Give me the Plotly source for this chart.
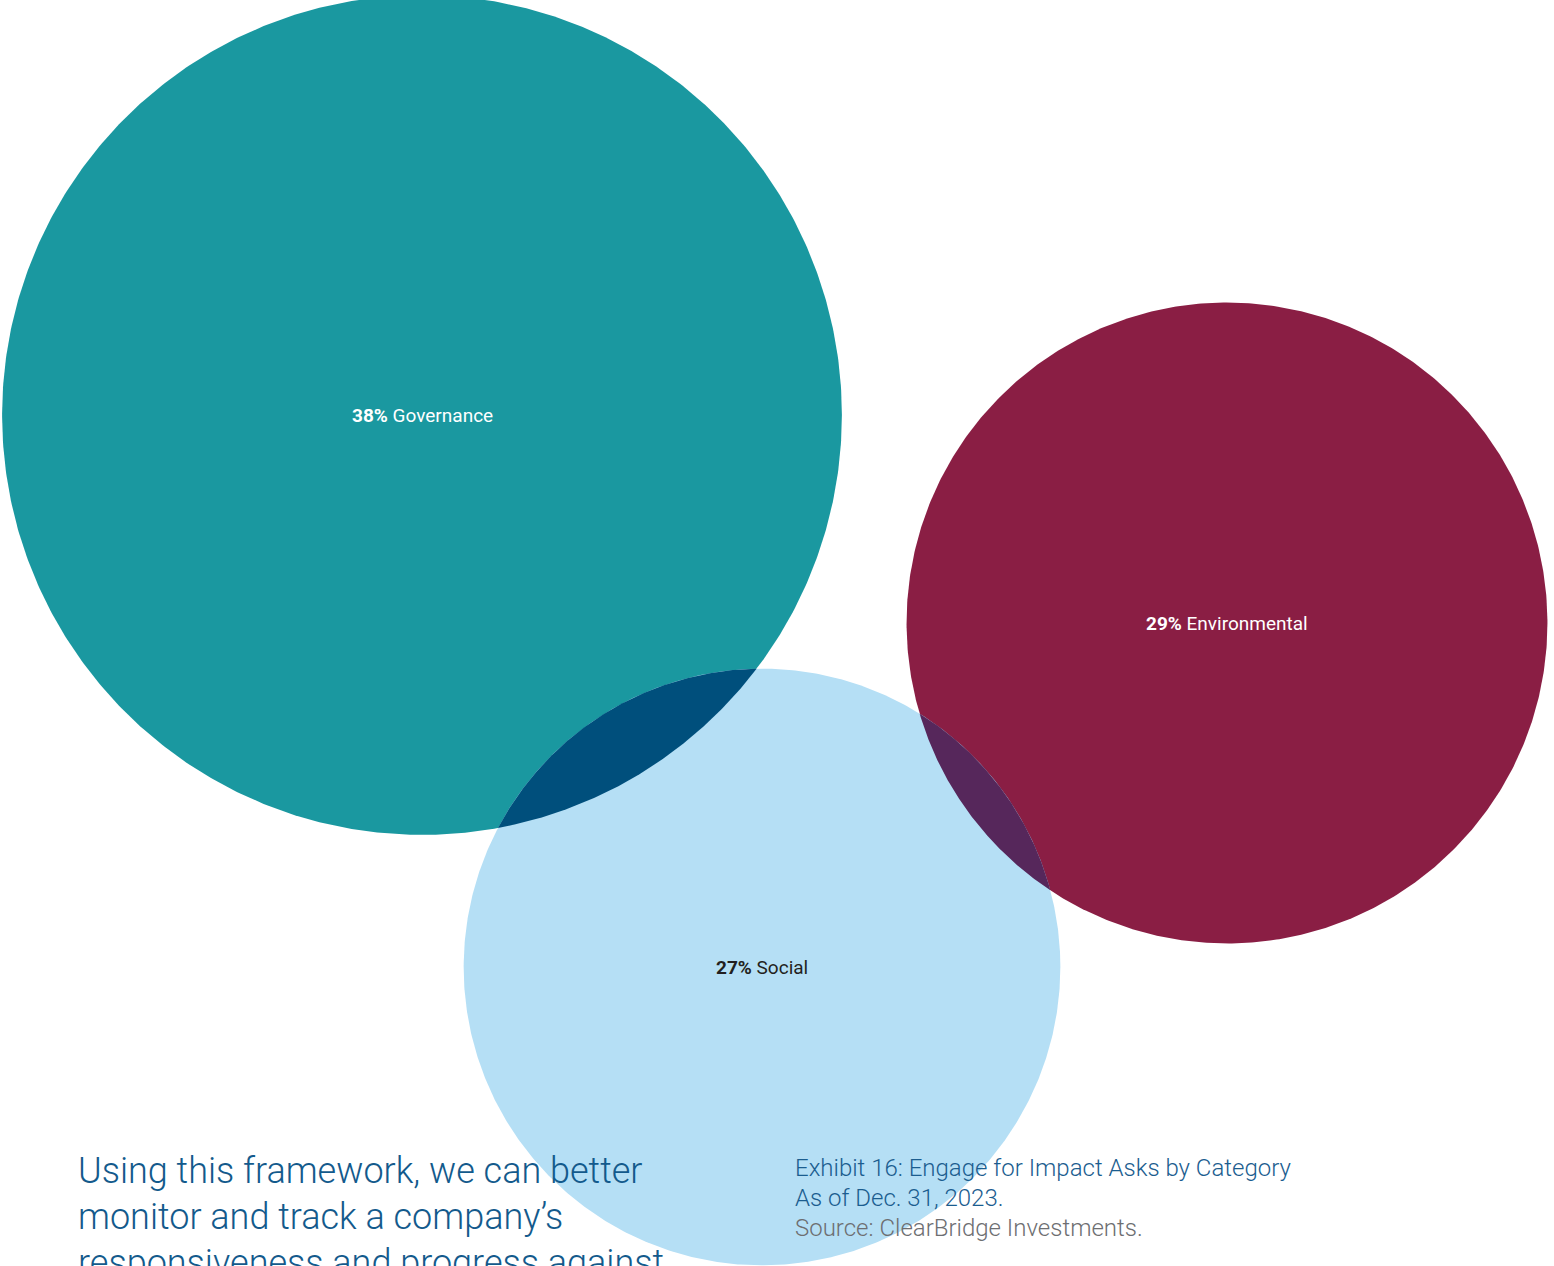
import numpy as np
import plotly.graph_objects as go

# Share of Engage for Impact asks by category (percent)
categories = ["Governance", "Environmental", "Social"]
shares = [38, 29, 27]

# Bubble styling and placement (canvas pixels, y measured downward)
fill_colors = ["#1a98a0", "#8a1e44", "#b5dff5"]
label_colors = ["#ffffff", "#ffffff", "#231f20"]
centers = [(422, 415), (1227, 623), (762, 967)]
PX_PER_PCT = 11.05  # bubble radius per percentage point

# Overlap tints: (first bubble, second bubble, colour)
overlaps = [(0, 2, "#004f7c"), (1, 2, "#56275b")]

W, H = 1554, 1266
FONT = "Roboto, 'Helvetica Neue', Arial, sans-serif"


def circle_xy(cx, cy, r, n=720):
    t = np.linspace(0, 2 * np.pi, n)
    return cx + r * np.cos(t), cy + r * np.sin(t)


def lens_xy(c1, r1, c2, r2, n=240):
    dx, dy = c2[0] - c1[0], c2[1] - c1[1]
    d = np.hypot(dx, dy)
    a = (r1 ** 2 - r2 ** 2 + d ** 2) / (2 * d)
    alpha = np.arccos(a / r1)
    beta = np.arccos((d - a) / r2)
    th = np.arctan2(dy, dx)
    ph = th + np.pi
    t1 = np.linspace(th - alpha, th + alpha, n)
    t2 = np.linspace(ph - beta, ph + beta, n)
    xs = np.concatenate([c1[0] + r1 * np.cos(t1), c2[0] + r2 * np.cos(t2)])
    ys = np.concatenate([c1[1] + r1 * np.sin(t1), c2[1] + r2 * np.sin(t2)])
    return xs, ys


radii = [v * PX_PER_PCT for v in shares]

fig = go.Figure()

for name, (cx, cy), r, col in zip(categories, centers, radii, fill_colors):
    x, y = circle_xy(cx, cy, r)
    fig.add_trace(go.Scatter(
        x=x, y=y, mode="lines", fill="toself", fillcolor=col,
        line=dict(width=0, color=col), name=name, hoverinfo="skip",
        showlegend=False,
    ))

for i, j, col in overlaps:
    x, y = lens_xy(centers[i], radii[i], centers[j], radii[j])
    fig.add_trace(go.Scatter(
        x=x, y=y, mode="lines", fill="toself", fillcolor=col,
        line=dict(width=0, color=col), hoverinfo="skip", showlegend=False,
    ))

annotations = []
for name, v, (cx, cy), col in zip(categories, shares, centers, label_colors):
    annotations.append(dict(
        x=cx, y=cy, xref="x", yref="y", showarrow=False,
        text=f"<b>{v}%</b> {name}",
        font=dict(family=FONT, size=19, color=col),
        xanchor="center", yanchor="middle",
    ))

# Body copy running beneath the chart
body_lines = [
    "Using this framework, we can better",
    "monitor and track a company\u2019s",
    "responsiveness and progress against",
]
for k, line in enumerate(body_lines):
    annotations.append(dict(
        x=76, y=1171 + 46 * k, xref="x", yref="y", showarrow=False,
        text=line, xanchor="left", yanchor="middle",
        font=dict(family=FONT, size=36, color="#135a8c", weight=300),
    ))

caption_lines = [
    ("Exhibit 16: Engage for Impact Asks by Category", "#1b5d8f"),
    ("As of Dec. 31, 2023.", "#1b5d8f"),
    ("Source: ClearBridge Investments.", "#6d6e71"),
]
for k, (line, col) in enumerate(caption_lines):
    annotations.append(dict(
        x=793, y=1168 + 30 * k, xref="x", yref="y", showarrow=False,
        text=line, xanchor="left", yanchor="middle",
        font=dict(family=FONT, size=24, color=col, weight=300),
    ))

fig.update_layout(
    width=W, height=H,
    margin=dict(l=0, r=0, t=0, b=0),
    paper_bgcolor="white", plot_bgcolor="white",
    xaxis=dict(range=[0, W], visible=False, fixedrange=True),
    yaxis=dict(range=[H, 0], visible=False, fixedrange=True),
    annotations=annotations,
    showlegend=False,
)

fig.write_html("out.html")
